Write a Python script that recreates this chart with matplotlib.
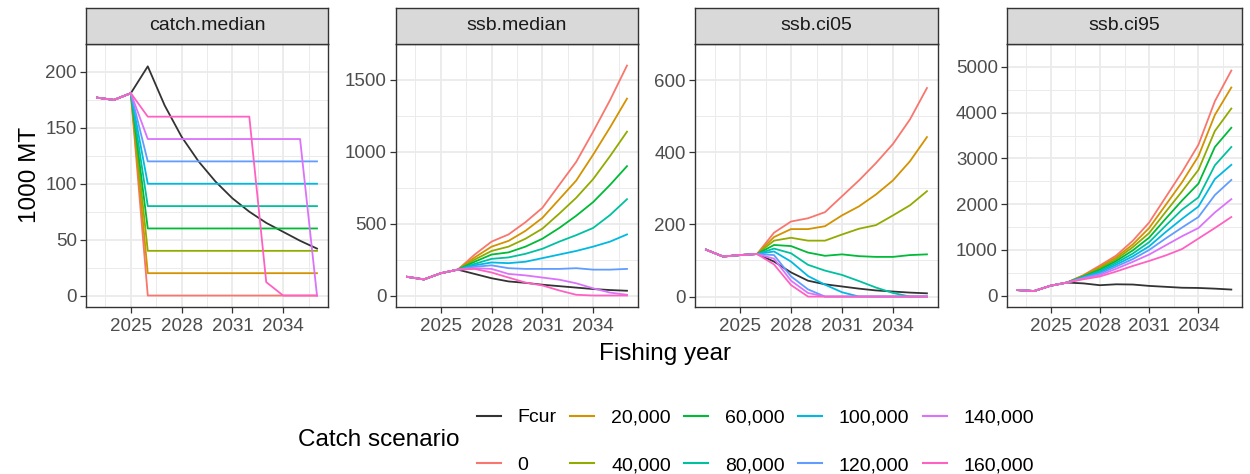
import matplotlib.pyplot as plt
from matplotlib.lines import Line2D

plt.rcParams['font.family'] = ['Liberation Sans', 'DejaVu Sans']

years = list(range(2023, 2037))
scenarios = ['Fcur', '0', '20,000', '40,000', '60,000', '80,000',
             '100,000', '120,000', '140,000', '160,000']
colors = ['#333333', '#F8766D', '#D39200', '#93AA00', '#00BA38', '#00C19F',
          '#00B9E3', '#619CFF', '#DB72FB', '#FF61C3']
panels = ['catch.median', 'ssb.median', 'ssb.ci05', 'ssb.ci95']

# one row per scenario, same order as `scenarios`
catch_median = [
    [177, 175, 181, 205, 170, 142, 120, 102, 87, 75, 65, 57, 49, 42],
    [177, 175, 181, 0, 0, 0, 0, 0, 0, 0, 0, 0, 0, 0],
    [177, 175, 181, 20, 20, 20, 20, 20, 20, 20, 20, 20, 20, 20],
    [177, 175, 181, 40, 40, 40, 40, 40, 40, 40, 40, 40, 40, 40],
    [177, 175, 181, 60, 60, 60, 60, 60, 60, 60, 60, 60, 60, 60],
    [177, 175, 181, 80, 80, 80, 80, 80, 80, 80, 80, 80, 80, 80],
    [177, 175, 181, 100, 100, 100, 100, 100, 100, 100, 100, 100, 100, 100],
    [177, 175, 181, 120, 120, 120, 120, 120, 120, 120, 120, 120, 120, 120],
    [177, 175, 181, 140, 140, 140, 140, 140, 140, 140, 140, 140, 140, 0],
    [177, 175, 181, 160, 160, 160, 160, 160, 160, 160, 12, 0, 0, 0],
]
ssb_median = [
    [130, 112, 155, 180, 150, 120, 98, 88, 75, 65, 55, 45, 38, 33],
    [130, 112, 155, 180, 285, 375, 425, 510, 610, 770, 930, 1140, 1360, 1600],
    [130, 112, 155, 180, 265, 340, 380, 450, 540, 670, 800, 980, 1170, 1370],
    [130, 112, 155, 180, 250, 310, 340, 395, 465, 570, 680, 810, 970, 1140],
    [130, 112, 155, 180, 235, 285, 300, 340, 395, 470, 555, 650, 770, 900],
    [130, 112, 155, 180, 220, 255, 265, 290, 325, 375, 420, 470, 560, 670],
    [130, 112, 155, 180, 210, 230, 225, 235, 260, 285, 310, 340, 375, 425],
    [130, 112, 155, 180, 200, 210, 190, 185, 185, 185, 190, 180, 180, 185],
    [130, 112, 155, 180, 190, 185, 150, 140, 125, 110, 85, 50, 20, 5],
    [130, 112, 155, 180, 185, 160, 125, 90, 70, 35, 5, 0, 0, 0],
]
ssb_ci05 = [
    [130, 111, 115, 118, 97, 67, 44, 34, 28, 22, 17, 14, 11, 9],
    [130, 111, 115, 118, 177, 208, 217, 234, 278, 322, 370, 423, 491, 578],
    [130, 111, 115, 118, 165, 187, 187, 195, 225, 250, 283, 322, 375, 442],
    [130, 111, 115, 118, 155, 163, 155, 155, 172, 188, 198, 225, 253, 292],
    [130, 111, 115, 118, 143, 140, 122, 113, 117, 112, 110, 110, 115, 117],
    [130, 111, 115, 118, 133, 120, 88, 72, 60, 43, 25, 10, 0, 0],
    [130, 111, 115, 118, 125, 97, 57, 33, 12, 0, 0, 0, 0, 0],
    [130, 111, 115, 118, 115, 56, 20, 0, 0, 0, 0, 0, 0, 0],
    [130, 111, 115, 118, 105, 44, 10, 0, 0, 0, 0, 0, 0, 0],
    [130, 111, 115, 118, 89, 32, 0, 0, 0, 0, 0, 0, 0, 0],
]
ssb_ci95 = [
    [123, 103, 219, 288, 270, 230, 250, 245, 215, 195, 175, 170, 155, 135],
    [123, 103, 219, 288, 450, 660, 880, 1200, 1600, 2150, 2700, 3300, 4250, 4920],
    [123, 103, 219, 288, 440, 630, 840, 1120, 1480, 1980, 2480, 3050, 3950, 4550],
    [123, 103, 219, 288, 430, 600, 800, 1060, 1370, 1830, 2280, 2750, 3600, 4090],
    [123, 103, 219, 288, 420, 570, 760, 990, 1270, 1680, 2080, 2450, 3250, 3670],
    [123, 103, 219, 288, 410, 540, 720, 920, 1170, 1530, 1880, 2150, 2850, 3250],
    [123, 103, 219, 288, 400, 510, 680, 860, 1080, 1390, 1680, 1950, 2550, 2860],
    [123, 103, 219, 288, 390, 480, 640, 800, 1000, 1250, 1490, 1720, 2200, 2530],
    [123, 103, 219, 288, 375, 450, 590, 740, 900, 1100, 1300, 1480, 1820, 2110],
    [123, 103, 219, 288, 360, 420, 530, 650, 760, 880, 1020, 1250, 1480, 1720],
]
panel_data = [catch_median, ssb_median, ssb_ci05, ssb_ci95]
y_breaks = [[0, 50, 100, 150, 200], [0, 500, 1000, 1500],
            [0, 200, 400, 600], [0, 1000, 2000, 3000, 4000, 5000]]
x_breaks = [2025, 2028, 2031, 2034]

W, H = 1250, 474
fig = plt.figure(figsize=(W / 100, H / 100), dpi=100)

# panel extents in pixels (left, right)
lefts = [86, 396, 695, 1007]
rights = [328, 638, 938, 1242]
top, bottom, strip_top = 44, 307, 8

for i, name in enumerate(panels):
    x0, x1 = lefts[i], rights[i]
    ax = fig.add_axes([x0 / W, (H - bottom) / H, (x1 - x0) / W, (bottom - top) / H])
    for j, row in enumerate(panel_data[i]):
        ax.plot(years, row, color=colors[j], lw=1.3, zorder=3)
    ymax = max(max(r) for r in panel_data[i])
    ax.set_ylim(-0.05 * ymax, 1.05 * ymax)
    ax.set_xlim(2023 - 0.65, 2036 + 0.65)
    ax.set_xticks(x_breaks)
    yb = y_breaks[i]
    ax.set_yticks(yb)
    ax.set_xticks([2023.5, 2026.5, 2029.5, 2032.5, 2035.5], minor=True)
    ax.set_yticks([v + (yb[1] - yb[0]) / 2 for v in yb], minor=True)
    ax.grid(which='major', color='#EBEBEB', lw=1.3, zorder=0)
    ax.grid(which='minor', color='#EBEBEB', lw=0.7, zorder=0)
    ax.tick_params(which='minor', length=0)
    ax.tick_params(which='major', length=4, width=0.9, color='#333333',
                   labelcolor='#4D4D4D', labelsize=13.5, pad=2.5)
    ax.tick_params(axis='x', which='major', pad=4)
    for s in ax.spines.values():
        s.set_color('#333333')
        s.set_linewidth(1.0)
    # facet strip
    sax = fig.add_axes([x0 / W, (H - top) / H, (x1 - x0) / W, (top - strip_top) / H])
    sax.set_facecolor('#D9D9D9')
    sax.set_xticks([])
    sax.set_yticks([])
    for s in sax.spines.values():
        s.set_color('#333333')
        s.set_linewidth(1.0)
    sax.text(0.5, 0.5, name, ha='center', va='center', fontsize=14,
             color='#1A1A1A', transform=sax.transAxes)

fig.text(665 / W, 1 - 354 / H, 'Fishing year', ha='center', va='center', fontsize=17.5)
fig.text(30 / W, 1 - 175 / H, '1000 MT', ha='center', va='center',
         rotation=90, fontsize=17.5)

# legend
fig.text(298 / W, 1 - 440 / H, 'Catch scenario', ha='left', va='center', fontsize=17.5)
handles = [Line2D([], [], color=c, lw=1.5) for c in colors]
fig.legend(handles, scenarios, ncol=5, frameon=False, fontsize=14,
           loc='center left', bbox_to_anchor=(477 / W, 1 - 441.5 / H),
           handlelength=1.24, handletextpad=0.85, columnspacing=0.7,
           labelspacing=1.55, borderpad=0, borderaxespad=0)

fig.savefig('out.png', dpi=100)
